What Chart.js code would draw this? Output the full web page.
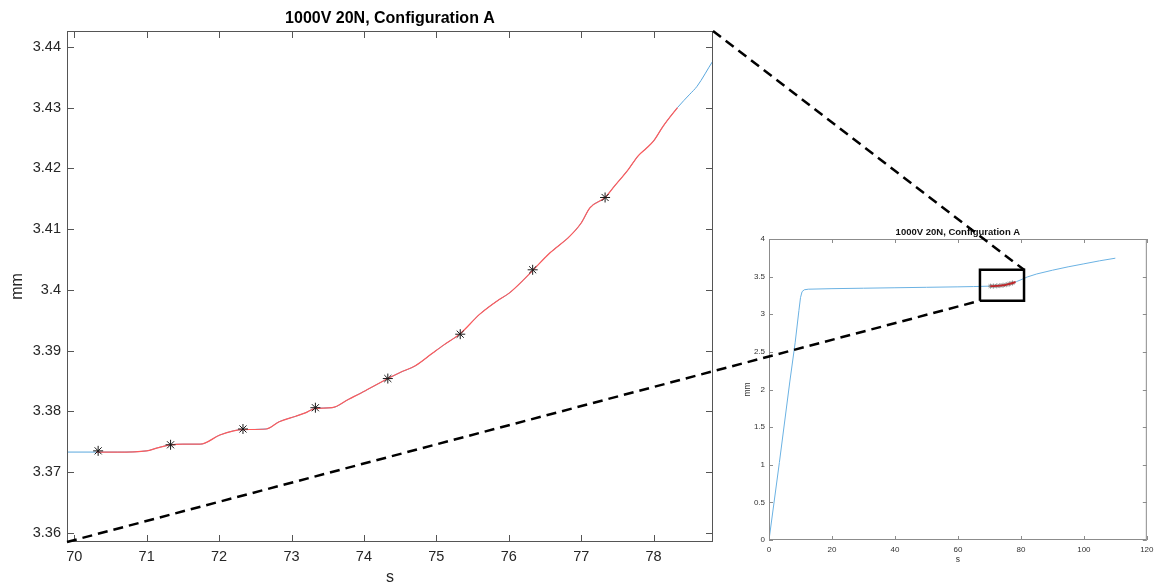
<!DOCTYPE html>
<html><head><meta charset="utf-8">
<script src="https://cdn.jsdelivr.net/npm/chart.js@4.4.1/dist/chart.umd.min.js"></script>
<style>
html,body{margin:0;padding:0;background:#fff;overflow:hidden;width:1158px;height:583px;}
canvas{position:absolute;}
#main{left:0;top:0;}
#inset{left:730px;top:215px;}
#overlay{left:0;top:0;pointer-events:none;}
</style></head><body>
<canvas id="main" width="740" height="590"></canvas>
<canvas id="inset" width="428" height="368"></canvas>
<canvas id="overlay" width="1158" height="583"></canvas>
<script>
// ---------- data ----------
const titleText = '1000V 20N, Configuration A';
const xLabel = 's';
const yLabel = 'mm';

const timeS = [0, 3.3, 6.6, 8.3, 9.5, 10, 10.5, 11.2, 12.5, 20, 30, 40, 50, 60, 65, 69.9,
  70.3, 70.6, 71.0, 71.15, 71.33, 71.5, 71.74, 72.01, 72.2, 72.33, 72.65, 72.83, 73.06, 73.2,
  73.33, 73.56, 73.79, 74.02, 74.33, 74.5, 74.71, 74.95, 75.1, 75.33, 75.6, 75.83, 76.01, 76.2,
  76.34, 76.57, 76.84, 77.0, 77.12, 77.33, 77.44, 77.65, 77.79, 77.9, 78.0, 78.13, 78.33,
  78.5, 78.6, 78.82, 80, 82, 85, 90, 95, 100, 105, 110];
const dispMm = [0, 1.03, 2.1, 2.62, 3.05, 3.22, 3.3, 3.325, 3.333, 3.34, 3.346, 3.352, 3.358, 3.364, 3.368, 3.3733,
  3.3733, 3.3733, 3.3735, 3.3740, 3.3745, 3.3746, 3.3746, 3.3761, 3.3768, 3.3770, 3.3771, 3.3783, 3.3792, 3.3798,
  3.3805, 3.3806, 3.3820, 3.3834, 3.3854, 3.3864, 3.3875, 3.3896, 3.3909, 3.3928, 3.3960, 3.3981, 3.3995, 3.4016,
  3.4033, 3.4061, 3.4088, 3.4110, 3.4135, 3.4152, 3.4168, 3.4198, 3.4221, 3.4233, 3.4245, 3.4269, 3.4300,
  3.4322, 3.4335, 3.4377, 3.458, 3.495, 3.535, 3.585, 3.63, 3.67, 3.71, 3.745];

const segStart = 70.3, segEnd = 78.33;   // highlighted (red) segment
const markerTime = [70.33, 71.33, 72.33, 73.33, 74.33, 75.33, 76.33, 77.33];
const markerMm   = [3.3735, 3.3745, 3.3771, 3.3806, 3.3854, 3.3927, 3.4033, 3.4152];

const mainXRange = [69.9, 78.82];
const mainYRange = [3.3585, 3.4426];
const mainXTicks = [70, 71, 72, 73, 74, 75, 76, 77, 78];
const mainYTicks = [3.36, 3.37, 3.38, 3.39, 3.40, 3.41, 3.42, 3.43, 3.44];

const insetXRange = [0, 120];
const insetYRange = [0, 4];
const insetXTicks = [0, 20, 40, 60, 80, 100, 120];
const insetYTicks = [0, 0.5, 1, 1.5, 2, 2.5, 3, 3.5, 4];

const zoomBoxX = [67, 81];
const zoomBoxY = [3.18, 3.59];

// ---------- derived ----------
const fullPts = timeS.map((t, i) => ({x: t, y: dispMm[i]}));
const segPts = fullPts.filter(p => p.x >= segStart && p.x <= segEnd);
const markerPts = markerTime.map((t, i) => ({x: t, y: markerMm[i]}));
const boxPts = [
  {x: zoomBoxX[0], y: zoomBoxY[0]}, {x: zoomBoxX[1], y: zoomBoxY[0]},
  {x: zoomBoxX[1], y: zoomBoxY[1]}, {x: zoomBoxX[0], y: zoomBoxY[1]},
  {x: zoomBoxX[0], y: zoomBoxY[0]}];

const FONT = "'Liberation Sans', Arial, Helvetica, sans-serif";

const framePlugin = {
  id: 'frame',
  afterDatasetsDraw(chart, args, opts) {
    const {ctx, chartArea: a, scales: {x, y}} = chart;
    ctx.save();
    ctx.strokeStyle = opts.color;
    ctx.lineWidth = opts.width;
    ctx.beginPath();
    x.ticks.forEach(t => {
      const px = Math.round(x.getPixelForValue(t.value)) + 0.5;
      ctx.moveTo(px, a.bottom); ctx.lineTo(px, a.bottom - opts.len);
      ctx.moveTo(px, a.top); ctx.lineTo(px, a.top + opts.len);
    });
    y.ticks.forEach(t => {
      const py = Math.round(y.getPixelForValue(t.value)) + 0.5;
      ctx.moveTo(a.left, py); ctx.lineTo(a.left + opts.len, py);
      ctx.moveTo(a.right, py); ctx.lineTo(a.right - opts.len, py);
    });
    ctx.stroke();
    ctx.strokeRect(a.left + 0.5, a.top + 0.5, a.right - a.left - 1, a.bottom - a.top - 1);
    ctx.restore();
  }
};

function fmt(v) { return String(+Number(v).toFixed(3)); }

function axes(cfg) {
  return {
    x: {
      type: 'linear', min: cfg.xr[0], max: cfg.xr[1],
      grid: {display: false, drawTicks: false, tickLength: 0},
      border: {display: false},
      afterBuildTicks: s => { s.ticks = cfg.xt.map(v => ({value: v})); },
      afterFit: s => { s.height = cfg.xh; },
      ticks: {autoSkip: false, maxRotation: 0, padding: cfg.xpad, color: cfg.tickColor,
              font: {family: FONT, size: cfg.tickSize}, callback: v => fmt(v)},
      title: {display: true, text: xLabel, color: cfg.labelColor,
              font: {family: FONT, size: cfg.labelSize}, padding: {top: 0, bottom: cfg.xtitlePad}}
    },
    y: {
      type: 'linear', min: cfg.yr[0], max: cfg.yr[1],
      grid: {display: false, drawTicks: false, tickLength: 0},
      border: {display: false},
      afterBuildTicks: s => { s.ticks = cfg.yt.map(v => ({value: v})); },
      afterFit: s => { s.width = cfg.yw; },
      ticks: {autoSkip: false, padding: cfg.ypad, color: cfg.tickColor,
              font: {family: FONT, size: cfg.tickSize}, callback: v => fmt(v)},
      title: {display: true, text: yLabel, color: cfg.labelColor,
              font: {family: FONT, size: cfg.labelSize}, padding: {top: cfg.ytitlePad, bottom: 0}}
    }
  };
}

Chart.defaults.animation = false;

const mainChart = new Chart(document.getElementById('main'), {
  type: 'line',
  data: {datasets: [
    {data: markerPts, showLine: false, pointStyle: 'star', pointRadius: 5, borderColor: '#1a1a1a',
     backgroundColor: '#1a1a1a', pointBorderWidth: 1, order: 0},
    {data: segPts, borderColor: '#ff5a5a', borderWidth: 1.2, pointRadius: 0,
     cubicInterpolationMode: 'monotone', order: 1},
    {data: fullPts, borderColor: '#5aa7dd', borderWidth: 1, pointRadius: 0,
     cubicInterpolationMode: 'monotone', order: 2}
  ]},
  options: {
    responsive: false, animation: false, events: [],
    layout: {padding: {left: 0, right: 27, top: 0, bottom: 0}},
    plugins: {
      legend: {display: false}, tooltip: {enabled: false},
      title: {display: true, text: titleText, fullSize: false, color: '#000',
              font: {family: FONT, size: 16, weight: 'bold', lineHeight: 1.2},
              padding: {top: 9, bottom: 2.8}},
      frame: {color: '#555', width: 1, len: 7}
    },
    scales: axes({xr: mainXRange, yr: mainYRange, xt: mainXTicks, yt: mainYTicks,
                  xh: 48, yw: 67, xpad: 6.5, ypad: 6, tickColor: '#262626', tickSize: 14.5,
                  labelColor: '#262626', labelSize: 16, xtitlePad: 3, ytitlePad: 8})
  },
  plugins: [framePlugin]
});

const insetChart = new Chart(document.getElementById('inset'), {
  type: 'line',
  data: {datasets: [
    {data: boxPts, borderColor: '#000', borderWidth: 2.5, pointRadius: 0, tension: 0, order: 0},
    {data: markerPts, showLine: false, pointStyle: 'star', pointRadius: 2.5, borderColor: '#8a8a8a',
     backgroundColor: '#8a8a8a', pointBorderWidth: 1, order: 2},
    {data: segPts, borderColor: '#c0262a', borderWidth: 1.8, pointRadius: 0, tension: 0, order: 1},
    {data: fullPts, borderColor: '#6bb2e3', borderWidth: 1, pointRadius: 0, tension: 0, order: 3}
  ]},
  options: {
    responsive: false, animation: false, events: [],
    layout: {padding: {left: 0, right: 7, top: 0, bottom: 0}},
    plugins: {
      legend: {display: false}, tooltip: {enabled: false},
      title: {display: true, text: titleText, fullSize: false, color: '#111',
              font: {family: FONT, size: 9.5, weight: 'bold', lineHeight: 1.2},
              padding: {top: 12, bottom: 0.6}},
      frame: {color: '#8c8c8c', width: 1, len: 4}
    },
    scales: axes({xr: insetXRange, yr: insetYRange, xt: insetXTicks, yt: insetYTicks,
                  xh: 43, yw: 39, xpad: 4.5, ypad: 4, tickColor: '#333', tickSize: 8,
                  labelColor: '#333', labelSize: 8.5, xtitlePad: 18, ytitlePad: 12.5})
  },
  plugins: [framePlugin]
});

// ---------- connector lines (zoom callout) ----------
(function drawConnectors() {
  const ov = document.getElementById('overlay').getContext('2d');
  const a = mainChart.chartArea;
  const ix = insetChart.scales.x, iy = insetChart.scales.y;
  const offX = 730, offY = 215;
  const bl = [offX + ix.getPixelForValue(zoomBoxX[0]), offY + iy.getPixelForValue(zoomBoxY[0])];
  const tr = [offX + ix.getPixelForValue(zoomBoxX[1]), offY + iy.getPixelForValue(zoomBoxY[1])];
  ov.save();
  ov.strokeStyle = '#000';
  ov.lineWidth = 2.5;
  ov.setLineDash([10, 6]);
  ov.beginPath();
  ov.moveTo(a.left, a.bottom); ov.lineTo(bl[0], bl[1]);
  ov.moveTo(a.right, a.top); ov.lineTo(tr[0], tr[1]);
  ov.stroke();
  ov.restore();
})();
</script>
</body></html>
